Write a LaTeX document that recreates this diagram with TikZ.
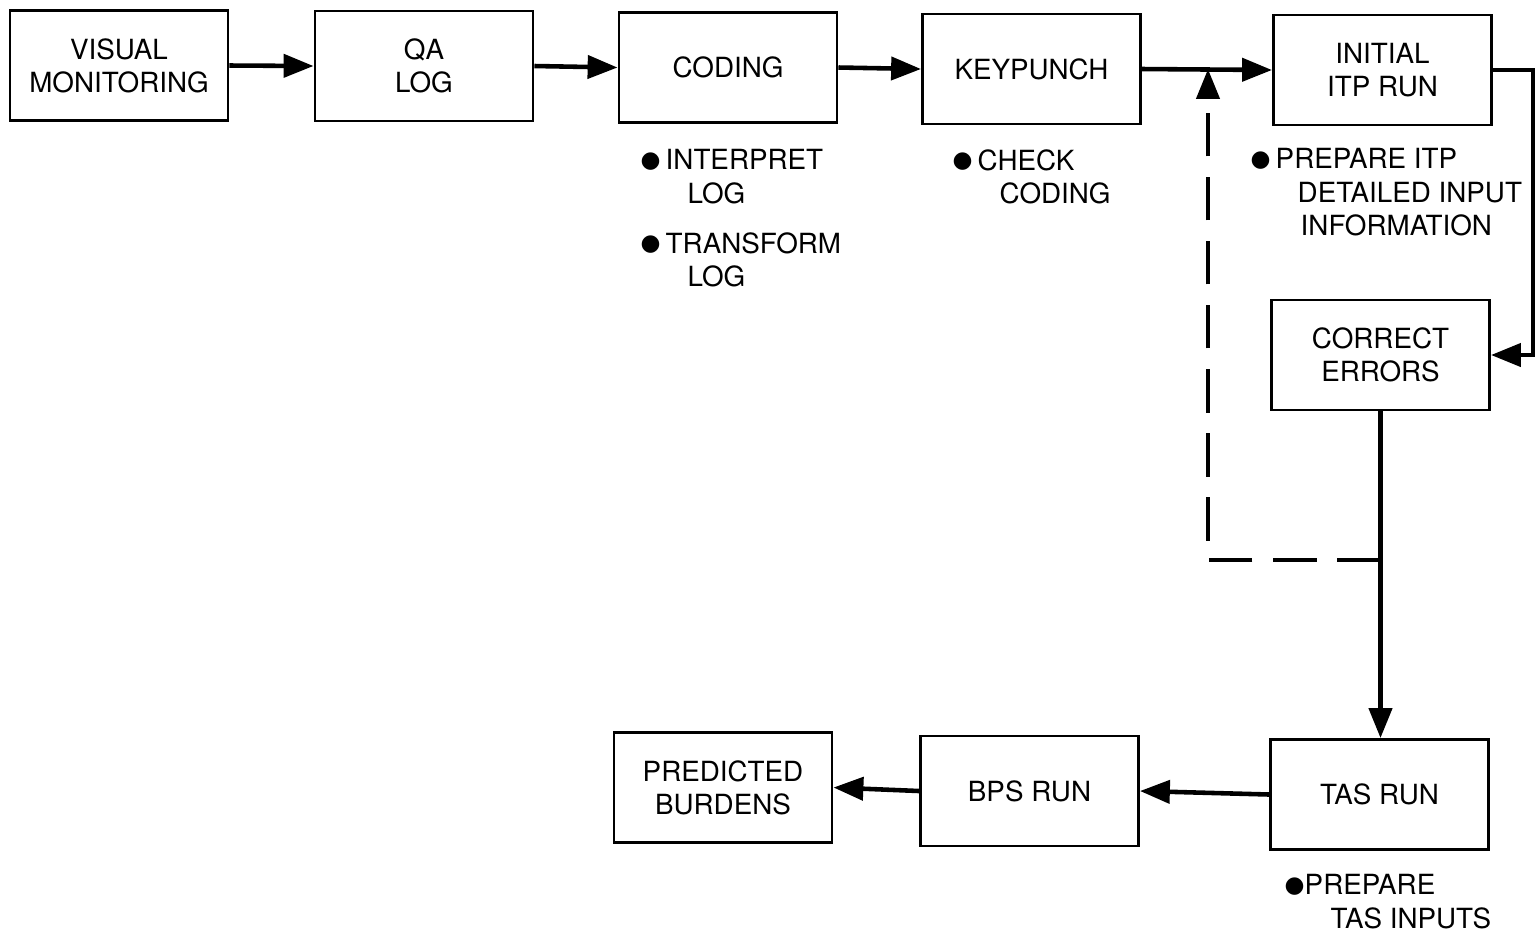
\documentclass[tikz,border=0pt]{standalone}
\usepackage{fontspec}
\setmainfont{TeX Gyre Heros}
\newfontfamily\dotfont{DejaVu Sans}
\usetikzlibrary{arrows.meta}
\newcommand{\bul}[1][2.5mm]{\makebox[#1][l]{\raisebox{0.8pt}{\dotfont\fontsize{6.5}{6.5}\selectfont ●}}}

\begin{document}
\begin{tikzpicture}[x=0.01cm,y=-0.01cm,
    font=\fontsize{7.9}{9.4}\selectfont,
    box/.style={draw,line width=0.8pt,minimum width=2.18cm,minimum height=1.1cm,
        inner sep=0pt,align=center},
    note/.style={anchor=north west,inner sep=0pt,align=left},
    flow/.style={line width=1.3pt,-{Triangle[length=8.5pt,width=6.5pt]}},
    back/.style={flow,dash pattern=on 12.5pt off 5.7pt}]
    \useasboundingbox (0,0) rectangle (1535,938);

    \node[box] (VIS) at (119,65.5) {VISUAL\\MONITORING};
    \node[box] (QA) at (424,66) {QA\\LOG};
    \node[box] (COD) at (728,67.5) {CODING};
    \node[box] (KEY) at (1031.5,69) {KEYPUNCH};
    \node[box] (ITP) at (1382.5,70) {INITIAL\\ITP RUN};
    \node[box] (COR) at (1380.5,355) {CORRECT\\ERRORS};
    \node[box] (TAS) at (1379.5,794.5) {TAS RUN};
    \node[box] (BPS) at (1029.5,791) {BPS RUN};
    \node[box] (PRED) at (723,787.5) {PREDICTED\\BURDENS};

    \node[note] (INT) at (640,149) {\bul INTERPRET\\\hspace*{4.7mm}LOG};
    \node[note] (TRF) at (640,232) {\bul TRANSFORM\\\hspace*{4.7mm}LOG};
    \node[note] (CHK) at (952,149) {\bul CHECK\\\hspace*{4.7mm}CODING};
    \node[note] (PRP) at (1250,148) {\bul PREPARE ITP\\\hspace*{4.7mm}DETAILED INPUT\\
        \hspace*{5mm}INFORMATION};
    \node[note] (TIN) at (1284,874) {\bul[2mm]PREPARE\\\hspace*{4.6mm}TAS INPUTS};

    \coordinate (J) at (1208,69);
    \coordinate (S) at (COR.south |- 0,560);

    \draw[flow] (VIS.east) -- (QA.west);
    \draw[flow] (QA.east) -- (COD.west);
    \draw[flow] (COD.east) -- (KEY.west);
    \draw[flow] (KEY.east) -- (ITP.west);
    \draw[flow] (ITP.east) -- ++(40,0) |- (COR.east);
    \draw[flow] (COR.south) -- (COR.south |- TAS.north);
    \draw[back] (S) -| (J);
    \draw[flow] (TAS.west) -- (BPS.east);
    \draw[flow] (BPS.west) -- (PRED.east);
\end{tikzpicture}
\end{document}
